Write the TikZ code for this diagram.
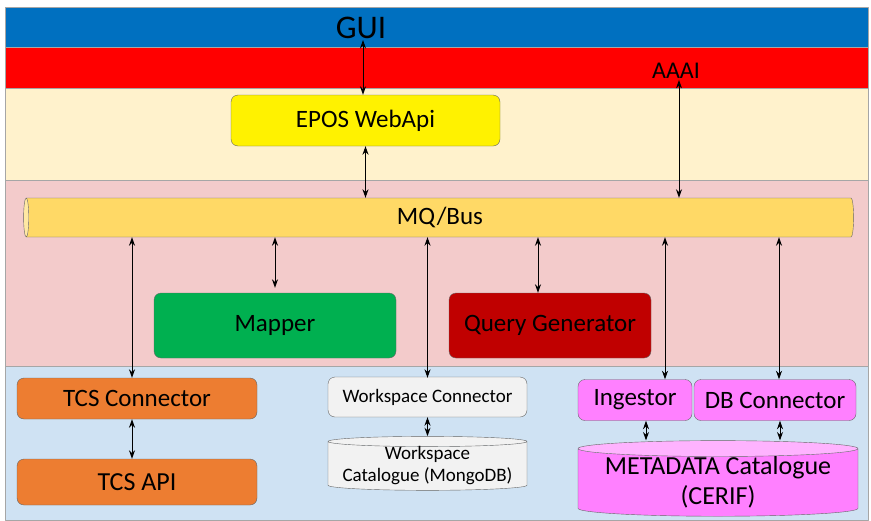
\documentclass[tikz,border=0pt]{standalone}
\usepackage{fontspec}
\setmainfont{Carlito}
\usetikzlibrary{shapes.geometric,arrows.meta}
\definecolor{guiblue}{HTML}{0070C0}
\definecolor{aaaired}{HTML}{FF0000}
\definecolor{webband}{HTML}{FFF2CC}
\definecolor{busband}{HTML}{F3CBCB}
\definecolor{connband}{HTML}{CFE2F3}
\definecolor{busfill}{HTML}{FFD966}
\definecolor{mapgreen}{HTML}{00B050}
\definecolor{querred}{HTML}{C00000}
\definecolor{tcsorange}{HTML}{ED7D31}
\definecolor{wsgray}{HTML}{F2F2F2}
\definecolor{metapink}{HTML}{FF80FF}
\definecolor{metatop}{HTML}{FFB3FF}
\tikzset{
  blk/.style={draw=gray!80!black, rounded corners=7pt, inner sep=0pt},
  db/.style={cylinder, shape border rotate=90, draw=gray!80!black, inner sep=0pt,
    cylinder uses custom fill},
  band/.style={draw=gray!70},
  link/.style={<->, line width=1pt}
}
\begin{document}
\begin{tikzpicture}[x=1pt, y=-1pt, line join=round, >={Stealth[length=8.5pt,width=6pt]},
    font=\fontsize{25}{27}\selectfont]
  \useasboundingbox (0,0) rectangle (871,520);
  % Các dải nền
  \filldraw[band, fill=guiblue] (5,7) rectangle (868,47);
  \filldraw[band, fill=aaaired] (5,47) rectangle (868,88);
  \filldraw[band, fill=webband] (5,88) rectangle (868,180);
  \filldraw[band, fill=busband] (5,180) rectangle (868,366);
  \filldraw[band, fill=connband] (5,366) rectangle (868,520);
  \node (gui) at (361,28) [inner sep=1pt, font=\fontsize{33}{35}\selectfont] {GUI};
  \node (aaai) at (676,71) [inner sep=1pt, font=\fontsize{24}{26}\selectfont] {AAAI};
  \node[blk, fill=yellow, minimum width=269, minimum height=51] (epos) at (365.5,120.5) {EPOS WebApi};
  \node[cylinder, shape border rotate=180, aspect=0.25, draw=gray!80!black, inner sep=0pt,
    cylinder uses custom fill, cylinder body fill=busfill, cylinder end fill=busfill!60,
    minimum width=39, minimum height=830] (bus) at (440,217.5) {MQ/Bus};
  \node[blk, fill=mapgreen, minimum width=242, minimum height=65] (mapper) at (275,325.5) {Mapper};
  \node[blk, fill=querred, minimum width=202, minimum height=65] (query) at (550,325.5) {Query Generator};
  \node[blk, fill=tcsorange, minimum width=240, minimum height=41] (tcsc) at (137,398.5) {TCS Connector};
  \node[blk, fill=tcsorange, minimum width=240, minimum height=46, font=\fontsize{26}{28}\selectfont] (tcsapi) at (137,482) {TCS API};
  \node[blk, fill=wsgray, minimum width=199, minimum height=40, font=\fontsize{19}{21}\selectfont] (wsc) at (427.5,397) {Workspace Connector};
  \node[db, cylinder body fill=wsgray, cylinder end fill=wsgray, aspect=0.06,
    minimum width=199, minimum height=42, align=center, font=\fontsize{19}{22}\selectfont] (wscat) at (427.5,466) {Workspace\\Catalogue (MongoDB)};
  \node[blk, fill=metapink, minimum width=114, minimum height=41] (ingest) at (635,400) {Ingestor};
  \node[blk, fill=metapink, minimum width=162, minimum height=41] (dbconn) at (775,400) {DB Connector};
  \node[db, cylinder body fill=metapink, cylinder end fill=metatop, aspect=0.07,
    minimum width=280, minimum height=65, align=center, font=\fontsize{26}{30}\selectfont] (meta) at (718,482.5) {METADATA Catalogue\\(CERIF)};
  % Các mũi tên
  \draw[link] (gui.south -| 363,0) -- (epos.north -| 363,0);
  \draw[link] (epos.south) -- (epos.south |- bus.north);
  \draw[link] ([xshift=3]aaai.south) -- ([xshift=3]aaai.south |- bus.north);
  \draw[link] ([xshift=-5]tcsc.north) -- ([xshift=-5]tcsc.north |- bus.south);
  \draw[link, shorten <=5pt] (mapper.north) -- (mapper.north |- bus.south);
  \draw[link] ([xshift=-12]query.north) -- ([xshift=-12]query.north |- bus.south);
  \draw[link] ([yshift=-1]wsc.north) -- (wsc.north |- bus.south);
  \draw[link] ([xshift=30]ingest.north) -- ([xshift=30]ingest.north |- bus.south);
  \draw[link] ([xshift=4]dbconn.north) -- ([xshift=4]dbconn.north |- bus.south);
  \draw[link] ([xshift=-5]tcsc.south) -- ([xshift=-5]tcsapi.north);
  \draw[link] (wsc.south) -- (wsc.south |- wscat.north);
  \draw[link] ([xshift=11]ingest.south) -- ([xshift=11]ingest.south |- meta.north);
  \draw[link] ([xshift=5]dbconn.south) -- ([xshift=5]dbconn.south |- meta.north);
\end{tikzpicture}
\end{document}
